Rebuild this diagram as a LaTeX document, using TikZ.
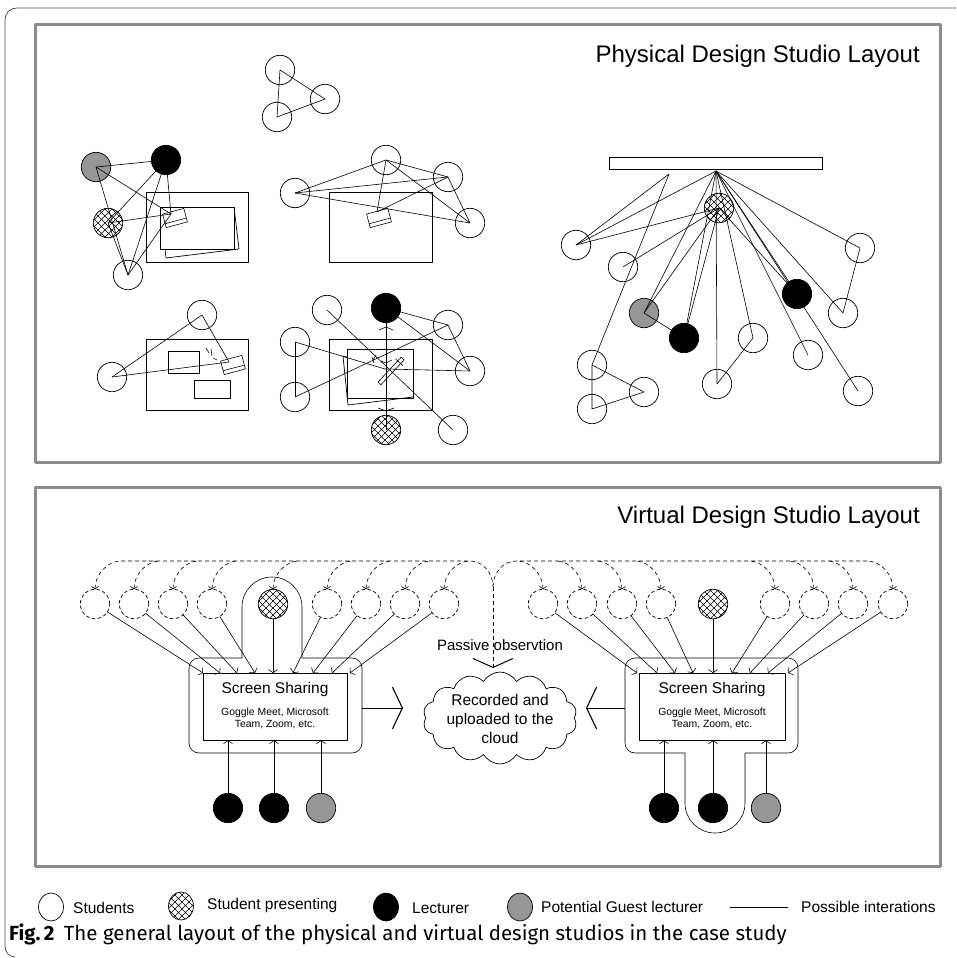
\documentclass[tikz,border=0pt]{standalone}
\usepackage{fontspec}
\setmainfont{Liberation Sans}
\newfontfamily\capfont{Fira Sans}
\usetikzlibrary{arrows.meta,patterns,shapes.symbols,shapes.geometric}
\definecolor{panelgray}{RGB}{140,140,140}
\definecolor{guestgray}{RGB}{150,150,150}
\definecolor{framegray}{RGB}{80,80,80}
\pgfdeclarepatternformonly{xhatch}{\pgfqpoint{-1pt}{-1pt}}{\pgfqpoint{8pt}{8pt}}{\pgfqpoint{7pt}{7pt}}{%
 \pgfsetlinewidth{0.6pt}%
 \pgfpathmoveto{\pgfqpoint{0pt}{0pt}}\pgfpathlineto{\pgfqpoint{7pt}{7pt}}%
 \pgfpathmoveto{\pgfqpoint{0pt}{7pt}}\pgfpathlineto{\pgfqpoint{7pt}{0pt}}%
 \pgfusepath{stroke}}
\tikzset{
 laptop/.pic={\draw[line width=0.6pt,fill=white] (-11,-7) rectangle (11,7); \draw[line width=0.6pt] (-11,3) -- (11,3);},
 penpic/.pic={\draw[line width=0.6pt,fill=white] (-17,-2) rectangle (17,2); \draw[line width=0.6pt] (12,-5) -- (12,5);}
}
\begin{document}
\begin{tikzpicture}[x=1pt,y=-1pt,line join=round,
  stu/.style={circle,draw,line width=0.7pt,minimum size=29.4pt,inner sep=0pt,outer sep=0pt},
  lec/.style={stu,fill=black},
  gst/.style={stu,fill=guestgray},
  prs/.style={stu,pattern=xhatch},
  dstu/.style={stu,dash pattern=on 3.5pt off 2.5pt},
  ln/.style={line width=0.6pt},
  dln/.style={line width=0.6pt,dash pattern=on 4pt off 3pt},
  tip/.style={-{Straight Barb[length=3pt,width=9pt]}},
  hook/.style={{Straight Barb[length=2.5pt,width=7pt]}-},
  bigtip/.style={-{Straight Barb[length=10pt,width=42pt,line width=1.1pt]}},
  desk/.style={draw,line width=0.7pt},
  panel/.style={draw=panelgray,line width=3pt},
  ptitle/.style={font=\fontsize{24}{27}\selectfont,anchor=east,inner sep=0pt},
  lgtext/.style={anchor=west,inner sep=0pt,font=\fontsize{15.5}{18}\selectfont},
  lgsym/.style={ellipse,draw,line width=0.7pt,minimum width=25pt,minimum height=28pt,inner sep=0pt}
]
\useasboundingbox (0,0) rectangle (956,958);
% outer frame
\draw[framegray,line width=0.8pt] (956,8) -- (17,8) .. controls (10,8) and (5,13) .. (5,20) -- (5,946) .. controls (5,952) and (9,957) .. (15,957);
% panels
\draw[panel] (35,25) rectangle (940,462);
\draw[panel] (35,487) rectangle (940,866);
\node[ptitle] (pt) at (920,56) {Physical Design Studio Layout};
\node[ptitle] (vt) at (920,517) {Virtual Design Studio Layout};

% ===== physical: triangle
\node[stu] (t1) at (280,70) {};
\node[stu] (t2) at (325,99) {};
\node[stu] (t3) at (277,117) {};
\draw[ln] (t1.center) -- (t2.center) -- (t3.center) -- (t1.center);

% ===== table 1
\draw[desk] (146,192) rectangle (248,262);
\draw[desk] (160,207) rectangle (234,249);
\draw[desk] (234,207) -- (239,249) -- (166,258) -- (165,249);
\pic[rotate=15] at (175,218) {laptop};
\coordinate (L1) at (171,214);
\node[gst] (g1) at (96,167) {};
\node[lec] (b1) at (166,160) {};
\node[prs] (h1) at (108,223) {};
\node[stu] (s1) at (128,275) {};
\draw[ln] (g1.center) -- (b1.center);
\draw[ln] (g1.center) -- (L1);
\draw[ln] (g1.center) -- (s1.center);
\draw[ln] (b1.center) -- (h1.center);
\draw[ln] (b1.center) -- (s1.center);
\draw[ln] (b1.center) -- (L1);
\draw[ln] (h1.center) -- (L1);
\draw[ln] (h1.center) -- (s1.center);
\draw[ln] (s1.center) -- (L1);

% ===== table 2
\draw[desk] (329,192) rectangle (432,262);
\pic[rotate=15] at (379,218) {laptop};
\coordinate (L2) at (377,212);
\node[stu] (s2a) at (295,193) {};
\node[stu] (s2b) at (386,160) {};
\node[stu] (s2c) at (448,177) {};
\node[stu] (s2d) at (470,223) {};
\draw[ln] (s2a.center) -- (s2b.center);
\draw[ln] (s2a.center) -- (s2c.center);
\draw[ln] (s2a.center) -- (s2d.center);
\draw[ln] (s2b.center) -- (L2);
\draw[ln] (s2b.center) -- (s2c.center);
\draw[ln] (s2b.center) -- (s2d.center);
\draw[ln] (s2c.center) -- (L2);
\draw[ln] (s2c.center) -- (s2d.center);

% ===== table 3
\draw[desk] (146,339) rectangle (248,410);
\draw[desk] (168,351) rectangle (199,373);
\draw[desk] (194,380) rectangle (230,398);
\pic[rotate=15] at (233,365) {laptop};
\draw[ln] (206,348) -- (209,353) (211,349) -- (212,356) (213,358) -- (217,360);
\coordinate (L3) at (229,362);
\node[stu] (s3a) at (202,315) {};
\node[stu] (s3b) at (112,377) {};
\draw[ln] (s3b.center) -- (s3a.center);
\draw[ln] (s3a.center) -- (L3);
\draw[ln] (s3b.center) -- (L3);

% ===== table 4
\draw[desk] (329,339) rectangle (432,410);
\draw[desk] (347,349) rectangle (413,398);
\draw[desk] (347,357) -- (343,356) -- (348,405) -- (413,397);
\coordinate (c4) at (385,369);
\pic[rotate=47] at (391,371) {penpic};
\draw[ln] (372,357) -- (374,363) (376,355) -- (373,360) (381,361) -- (386,363) -- (392,360);
\node[lec] (b4) at (386,308) {};
\node[stu] (s4a) at (327,310) {};
\node[stu] (s4b) at (295,342) {};
\node[stu] (s4c) at (295,397) {};
\node[stu] (s4d) at (448,325) {};
\node[stu] (s4e) at (470,371) {};
\node[stu] (s4f) at (453,430) {};
\node[prs] (h4) at (386,430) {};
\draw[ln] (b4.center) -- (h4.center);
\draw[ln,{Straight Barb[length=3pt,width=14pt]}-{Straight Barb[length=3pt,width=16pt]},shorten <=4pt,shorten >=4pt] (b4) -- (h4);
\draw[ln] (b4.center) -- (s4d.center);
\draw[ln] (s4d.center) -- (s4e.center);
\draw[ln] (b4.center) -- (s4e.center);
\draw[ln] (s4a.center) -- (s4f.center);
\draw[ln] (s4b.center) -- (c4);
\draw[ln] (s4b.center) -- (s4c.center);
\draw[ln] (s4c.center) -- (s4d.center);
\draw[ln] (c4) -- (s4e.center);

% ===== right fan
\node[draw,line width=0.7pt,minimum width=213pt,minimum height=12pt,inner sep=0pt] (wb) at (715.5,163) {};
\coordinate (hub) at (716,171);
\node[prs] (h5) at (719,208) {};
\node[stu] (fA) at (576,245) {};
\node[stu] (fB) at (623,267) {};
\node[gst] (g5) at (644,313) {};
\node[lec] (b5a) at (684,338) {};
\node[stu] (fC) at (753,338) {};
\node[stu] (fD) at (717,384) {};
\node[stu] (fE) at (592,365) {};
\node[stu] (fF) at (644,392) {};
\node[stu] (fG) at (592,409) {};
\node[lec] (b5b) at (797,294) {};
\node[stu] (fH) at (860,248) {};
\node[stu] (fI) at (843,313) {};
\node[stu] (fJ) at (808,355) {};
\node[stu] (fK) at (858,391) {};
\coordinate (fP) at (669,174);
\draw[ln] (hub) -- (fA.center);
\draw[ln] (fA.center) -- (h5.center);
\draw[ln] (fA.center) -- (fP) -- (fE.center);
\draw[ln] (fB.center) -- (h5.center);
\draw[ln] (hub) -- (g5.center);
\draw[ln] (h5.center) -- (g5.center);
\draw[ln] (g5.center) -- (b5a.center);
\draw[ln] (hub) -- (b5a.center);
\draw[ln] (h5.center) -- (b5a.center);
\draw[ln] (hub) -- (fD.center);
\draw[ln] (fD.center) -- (fC.center);
\draw[ln] (fC.center) -- (hub);
\draw[ln] (hub) -- (fJ.center);
\draw[ln] (hub) -- (b5b.center);
\draw[ln] (h5.center) -- (b5b.center);
\draw[ln] (hub) -- (fK.center);
\draw[ln] (hub) -- (fI.center);
\draw[ln] (fI.center) -- (fH.center);
\draw[ln] (hub) -- (fH.center);
\draw[ln] (fE.center) -- (fF.center) -- (fG.center) -- (fE.center);

% ===== virtual: left group
\draw[ln,rounded corners=10pt] (302,658) -- (362,658) -- (362,753) -- (189,753) -- (189,658) -- (242,658);
\draw[ln] (242,658) -- (242,607) .. controls (242,590.4) and (255.4,577) .. (272,577) .. controls (288.6,577) and (302,590.4) .. (302,607) -- (302,658);
\node[draw,line width=0.7pt,minimum width=144pt,minimum height=67pt,inner sep=0pt] (lbox) at (275,706.5) {};
\node[font=\fontsize{15.5}{18}\selectfont] (lss) at (275,689) {Screen Sharing};
\node[font=\fontsize{10.4}{12}\selectfont,align=center] (lsd) at (275,718) {Goggle Meet, Microsoft\\Team, Zoom, etc.};
\foreach \x/\t/\n in {95/203/1,134/220/2,173/237/3,212/255/4,327/293/6,366/313/7,405/332/8,444/350/9}{
  \node[dstu] (vl\n) at (\x,604) {};
  \coordinate (tl\n) at (\t,673);
  \draw[ln,tip] (vl\n) -- (tl\n);
}
\node[prs] (vl5) at (273,604) {};
\coordinate (tl5) at (273,673);
\draw[ln,tip] (vl5) -- (tl5);
\foreach \x in {95,134,173,212,273,327,366,405,444}{
  \draw[dln,hook] (\x,589.3) .. controls (\x,575) and ({\x+12},561) .. ({\x+26},561);
}
\draw[dln] (121,561) -- (470,561) .. controls (483,561) and (493,573) .. (493,587);
% bottom lecturers left
\node[lec] (lb1) at (228,808) {};
\node[lec] (lb2) at (274,808) {};
\node[gst] (lb3) at (321,808) {};
\draw[ln,tip] (lb1) -- (lb1 |- lbox.south);
\draw[ln,tip] (lb2) -- (lb2 |- lbox.south);
\draw[ln,tip] (lb3) -- (lb3 |- lbox.south);

% ===== virtual: right group
\draw[ln,rounded corners=10pt] (685,753) -- (625,753) -- (625,658) -- (798,658) -- (798,753) -- (745,753);
\draw[ln] (685,753) -- (685,803) .. controls (685,819.6) and (698.4,833) .. (715,833) .. controls (731.6,833) and (745,819.6) .. (745,803) -- (745,753);
\node[draw,line width=0.7pt,minimum width=146pt,minimum height=67pt,inner sep=0pt] (rbox) at (712,706.5) {};
\node[font=\fontsize{15.5}{18}\selectfont] (rss) at (712,689) {Screen Sharing};
\node[font=\fontsize{10.4}{12}\selectfont,align=center] (rsd) at (712,718) {Goggle Meet, Microsoft\\Team, Zoom, etc.};
\foreach \x/\t/\n in {543/637/1,582/657/2,622/675/3,661/693/4,775/732/6,814/750/7,853/768/8,893/788/9}{
  \node[dstu] (vr\n) at (\x,604) {};
  \coordinate (tr\n) at (\t,673);
  \draw[ln,tip] (vr\n) -- (tr\n);
}
\node[prs] (vr5) at (713,604) {};
\coordinate (tr5) at (713,673);
\draw[ln,tip] (vr5) -- (tr5);
\foreach \x in {543,582,622,661,775,814,853,893}{
  \draw[dln,hook] (\x,589.3) .. controls (\x,575) and ({\x-12},561) .. ({\x-26},561);
}
\draw[dln] (867,561) -- (516,561) .. controls (503,561) and (493,573) .. (493,587);
\node[lec] (rb1) at (664,808) {};
\node[lec] (rb2) at (713,808) {};
\node[gst] (rb3) at (766,808) {};
\draw[ln,tip] (rb1) -- (rb1 |- rbox.south);
\draw[ln,tip] (rb2) -- (rb2 |- rbox.south);
\draw[ln,tip] (rb3) -- (rb3 |- rbox.south);

% ===== cloud and passive observation
\coordinate (po1) at (493,587);
\coordinate (po2) at (493,668);
\draw[dln,-{Straight Barb[length=9pt,width=40pt,line width=1pt]}] (po1) -- (po2);
\node[font=\fontsize{15}{18}\selectfont] (pot) at (500,645) {Passive observtion};
\node[cloud,draw,line width=0.7pt,cloud puffs=14,cloud puff arc=120,cloud ignores aspect,minimum width=154pt,minimum height=92pt,inner sep=0pt] (cl) at (500,718) {};
\node[font=\fontsize{15.5}{19}\selectfont,align=center] (clt) at (500,719) {Recorded and\\uploaded to the\\cloud};
\coordinate (la1) at (362,708);
\coordinate (la2) at (403,708);
\draw[ln,bigtip] (la1) -- (la2);
\coordinate (ra1) at (625,708);
\coordinate (ra2) at (586,708);
\draw[ln,bigtip] (ra1) -- (ra2);

% ===== legend
\node[lgsym] (lg1) at (51,907) {};
\node[lgtext] (lgt1) at (73,908) {Students};
\node[lgsym,pattern=xhatch] (lg2) at (181,906) {};
\node[lgtext] (lgt2) at (207,905) {Student presenting};
\node[lgsym,fill=black] (lg3) at (386,907) {};
\node[lgtext] (lgt3) at (412,908) {Lecturer};
\node[lgsym,fill=guestgray] (lg4) at (520,907) {};
\node[lgtext] (lgt4) at (541,907) {Potential Guest lecturer};
\coordinate (lgl1) at (730,907);
\coordinate (lgl2) at (788,907);
\draw[ln] (lgl1) -- (lgl2);
\node[lgtext] (lgt5) at (801,907) {Possible interations};

% ===== caption
\node[anchor=west,inner sep=0pt,font=\capfont\fontsize{20.5}{24}\selectfont] (cap) at (9,934) {\textbf{Fig.\,2}\hspace{0.45em}The general layout of the physical and virtual design studios in the case study};
\end{tikzpicture}
\end{document}
